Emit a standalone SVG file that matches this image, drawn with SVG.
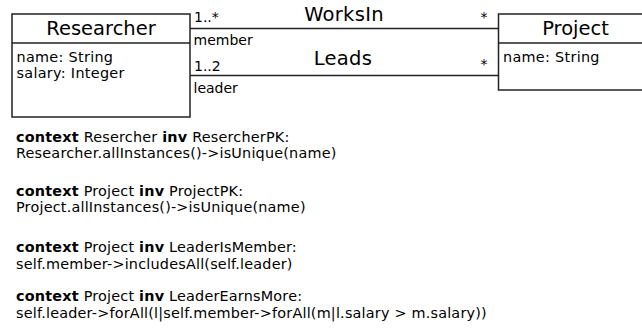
<svg xmlns="http://www.w3.org/2000/svg" width="642" height="335" viewBox="0 0 642 335">
<style>
text{font-family:"DejaVu Sans",Verdana,sans-serif;fill:#000}
.title{font-size:19.5px;text-anchor:middle}
.attr{font-size:14.4px;letter-spacing:0.3px}
.role{font-size:14px}
.assoc{font-size:19.5px;text-anchor:middle;letter-spacing:0.3px}
.ocl{font-size:14.4px;letter-spacing:0.2px}
.kw{font-weight:bold}
.box{fill:#fff;stroke:#222;stroke-width:1.5}
.line{stroke:#222;stroke-width:1.5;fill:none}
</style>
<rect width="642" height="335" fill="#fff"/>
<g id="connectors">
<line class="line" x1="190" y1="28.5" x2="498.5" y2="28.5"/>
<line class="line" x1="190" y1="75.5" x2="498.5" y2="75.5"/>
<text class="role" x="194" y="21.5">1..*</text>
<text class="role" x="193.5" y="44.5">member</text>
<text class="role" x="194" y="70.5">1..2</text>
<text class="role" x="193.5" y="92.5">leader</text>
<text class="assoc" x="344" y="20.5">WorksIn</text>
<text class="assoc" x="343" y="65">Leads</text>
<text class="role" x="480.5" y="22">*</text>
<text class="role" x="480.5" y="69">*</text>
</g>
<g id="Researcher">
<rect class="box" x="12" y="14" width="178" height="103"/>
<line class="line" x1="12" y1="43" x2="190" y2="43"/>
<text class="title" x="101" y="35">Researcher</text>
<text class="attr" x="16.5" y="61.5">name: String</text>
<text class="attr" x="16.5" y="77.5">salary: Integer</text>
</g>
<g id="Project">
<rect class="box" x="498.5" y="14" width="154" height="76"/>
<line class="line" x1="498.5" y1="43" x2="652.5" y2="43"/>
<text class="title" x="575.5" y="35">Project</text>
<text class="attr" x="503" y="61.5">name: String</text>
</g>
<g id="constraints">
<text class="ocl" x="16" y="141.5"><tspan class="kw">context</tspan> Resercher <tspan class="kw">inv</tspan> ResercherPK:</text>
<text class="ocl" x="16" y="158">Researcher.allInstances()-&gt;isUnique(name)</text>
<text class="ocl" x="16" y="195.5"><tspan class="kw">context</tspan> Project <tspan class="kw">inv</tspan> ProjectPK:</text>
<text class="ocl" x="16" y="212">Project.allInstances()-&gt;isUnique(name)</text>
<text class="ocl" x="16" y="252"><tspan class="kw">context</tspan> Project <tspan class="kw">inv</tspan> LeaderIsMember:</text>
<text class="ocl" x="16" y="268.5">self.member-&gt;includesAll(self.leader)</text>
<text class="ocl" x="16" y="301"><tspan class="kw">context</tspan> Project <tspan class="kw">inv</tspan> LeaderEarnsMore:</text>
<text class="ocl" x="16" y="317.5">self.leader-&gt;forAll(l|self.member-&gt;forAll(m|l.salary &gt; m.salary))</text>
</g>
</svg>
